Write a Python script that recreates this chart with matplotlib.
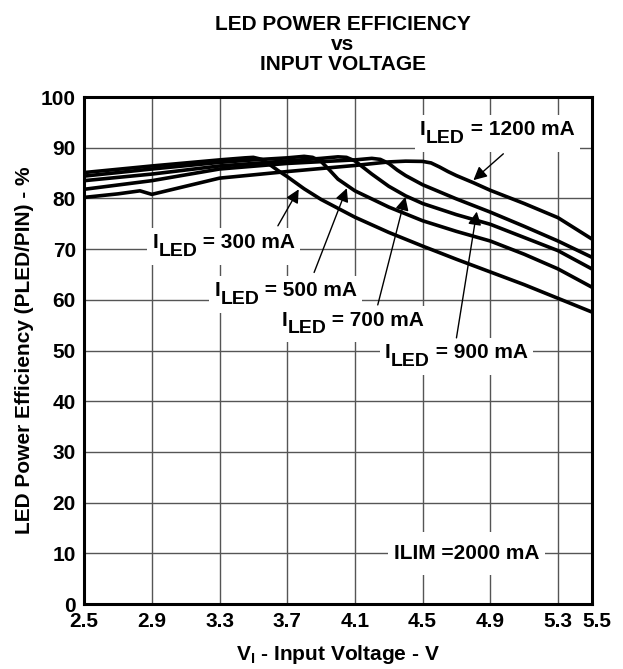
import numpy as np
import matplotlib
matplotlib.use('Agg')
import matplotlib.pyplot as plt
import matplotlib.transforms as mtransforms
from matplotlib.patches import Rectangle
from matplotlib.transforms import Bbox

plt.rcParams['font.family'] = ['Liberation Sans', 'DejaVu Sans']
plt.rcParams['font.weight'] = 'bold'
plt.rcParams['mathtext.fontset'] = 'custom'
plt.rcParams['mathtext.rm'] = 'Liberation Sans:bold'
plt.rcParams['mathtext.bf'] = 'Liberation Sans:bold'
plt.rcParams['mathtext.default'] = 'bf'

# 曲线数据
v_300 = [2.5, 2.9, 3.1, 3.3, 3.45, 3.5, 3.55, 3.6, 3.65, 3.7, 3.8, 3.9, 4.1, 4.3, 4.5, 4.7, 4.9, 5.1, 5.3, 5.5]
e_300 = [85.1, 86.4, 87.0, 87.6, 88.0, 88.1, 87.7, 86.6, 85.4, 84.3, 81.9, 79.8, 76.3, 73.3, 70.6, 68.0, 65.5, 63.0, 60.3, 57.6]

v_500 = [2.5, 2.9, 3.3, 3.5, 3.7, 3.8, 3.85, 3.9, 3.95, 4.0, 4.1, 4.3, 4.5, 4.7, 4.9, 5.1, 5.3, 5.5]
e_500 = [84.4, 85.8, 87.1, 87.6, 88.0, 88.3, 88.1, 87.3, 85.6, 83.8, 81.5, 78.3, 75.6, 73.5, 71.6, 69.0, 66.1, 62.5]

v_700 = [2.5, 2.9, 3.3, 3.7, 3.9, 4.0, 4.05, 4.1, 4.15, 4.2, 4.3, 4.4, 4.5, 4.7, 4.9, 5.1, 5.3, 5.5]
e_700 = [83.5, 84.8, 86.4, 87.4, 87.9, 88.2, 88.1, 87.4, 86.1, 84.8, 82.4, 80.5, 79.0, 76.8, 74.9, 72.3, 69.7, 66.1]

v_900 = [2.5, 2.9, 3.3, 3.7, 4.1, 4.2, 4.25, 4.3, 4.35, 4.4, 4.5, 4.7, 4.9, 5.1, 5.3, 5.5]
e_900 = [81.8, 83.5, 85.8, 86.9, 87.6, 87.9, 87.7, 86.9, 85.6, 84.5, 82.7, 79.9, 77.3, 74.5, 71.6, 68.4]

v_1200 = [2.5, 2.7, 2.83, 2.9, 3.1, 3.3, 3.7, 4.1, 4.3, 4.4, 4.5, 4.55, 4.6, 4.65, 4.7, 4.8, 4.9, 5.1, 5.3, 5.5]
e_1200 = [80.2, 80.9, 81.5, 80.8, 82.4, 84.0, 85.3, 86.5, 87.2, 87.35, 87.3, 87.0, 86.2, 85.3, 84.5, 83.1, 81.6, 79.0, 76.2, 72.0]

x_ticks = [2.5, 2.9, 3.3, 3.7, 4.1, 4.5, 4.9, 5.3, 5.5]
x_grid = [2.9, 3.3, 3.7, 4.1, 4.5, 4.9, 5.3]
y_ticks = [0, 10, 20, 30, 40, 50, 60, 70, 80, 90, 100]

fig = plt.figure(figsize=(6.23, 6.69), dpi=100)
ax = fig.add_axes([0.135, 0.097, 0.815, 0.758])

for xg in x_grid:
    ax.axvline(xg, color='#555555', lw=1.0, zorder=1)
for yg in y_ticks[1:-1]:
    ax.axhline(yg, color='#555555', lw=1.0, zorder=1)

for v, e in [(v_300, e_300), (v_500, e_500), (v_700, e_700), (v_900, e_900), (v_1200, e_1200)]:
    ax.plot(v, e, color='black', lw=2.6, solid_joinstyle='round', solid_capstyle='butt', zorder=3)

ax.set_xlim(2.5, 5.5)
ax.set_ylim(0, 100)
ax.set_xticks(x_ticks)
ax.set_xticklabels([f'{t:.1f}' for t in x_ticks])
ax.set_yticks(y_ticks)
ax.tick_params(length=0, labelsize=15, pad=6)
for s in ax.spines.values():
    s.set_linewidth(2.2)

# 最后一个刻度标签稍微右移
last = ax.get_xticklabels()[-1]
last.set_transform(last.get_transform() + mtransforms.ScaledTranslation(5 / 100, 0, fig.dpi_scale_trans))

ax.set_xlabel(r'V$_\mathregular{I}$ - Input Voltage - V', fontsize=15, fontweight='bold', labelpad=8)
ax.set_ylabel('LED Power Efficiency (PLED/PIN) - %', fontsize=15, fontweight='bold', labelpad=5)
fig.text(0.55, 0.977, 'LED POWER EFFICIENCY\nvs\nINPUT VOLTAGE', ha='center', va='top',
         fontsize=15, fontweight='bold', linespacing=1.06)


def iled_label(x, y, value):
    # I + LED (lowered) + " = xxx mA"
    t1 = ax.text(x, y, 'I', ha='left', va='baseline', fontsize=15, fontweight='bold', zorder=4)
    t2 = ax.annotate('LED', xy=(1, 0), xycoords=t1, xytext=(0.3, -5.5), textcoords='offset points',
                     ha='left', va='bottom', fontsize=14, fontweight='bold', zorder=4)
    t3 = ax.annotate(f' = {value} mA', xy=(1, 0), xycoords=(t2, t1), xytext=(0, 0),
                     textcoords='offset points', ha='left', va='bottom', fontsize=15,
                     fontweight='bold', zorder=4)
    return [t1, t2, t3]


labels = [
    ('1200', 4.485, 92.5, (4.977, 88.8), (4.80, 83.6)),
    ('300', 2.903, 70.2, (3.645, 74.6), (3.768, 81.8)),
    ('500', 3.27, 60.7, (3.859, 65.4), (4.052, 82.0)),
    ('700', 3.666, 54.9, (4.235, 59.0), (4.398, 80.3)),
    ('900', 4.278, 48.5, (4.70, 52.5), (4.82, 77.4)),
]
groups = []
for value, tx, ty, start, tip in labels:
    groups.append((iled_label(tx, ty, value), 5, 5))
    ax.annotate('', xy=tip, xytext=start,
                arrowprops=dict(arrowstyle='-|>', color='black', lw=1.0, mutation_scale=20,
                                shrinkA=0, shrinkB=0), zorder=5)

ilim = ax.text(4.33, 10, 'ILIM =2000 mA', ha='left', va='center', fontsize=15, fontweight='bold', zorder=4)
groups.append(([ilim], 6, 12))

# 白色底框 behind each label
fig.canvas.draw()
renderer = fig.canvas.get_renderer()
inv = ax.transData.inverted()
for g, padx, pady in groups:
    bb = Bbox.union([Bbox(t.get_window_extent(renderer).get_points()) for t in g])
    (x0, y0), (x1, y1) = inv.transform([[bb.x0 - padx, bb.y0 - pady], [bb.x1 + padx, bb.y1 + pady]])
    ax.add_patch(Rectangle((x0, y0), x1 - x0, y1 - y0, facecolor='white', edgecolor='none', zorder=2))

plt.savefig('out.png', dpi=100)
